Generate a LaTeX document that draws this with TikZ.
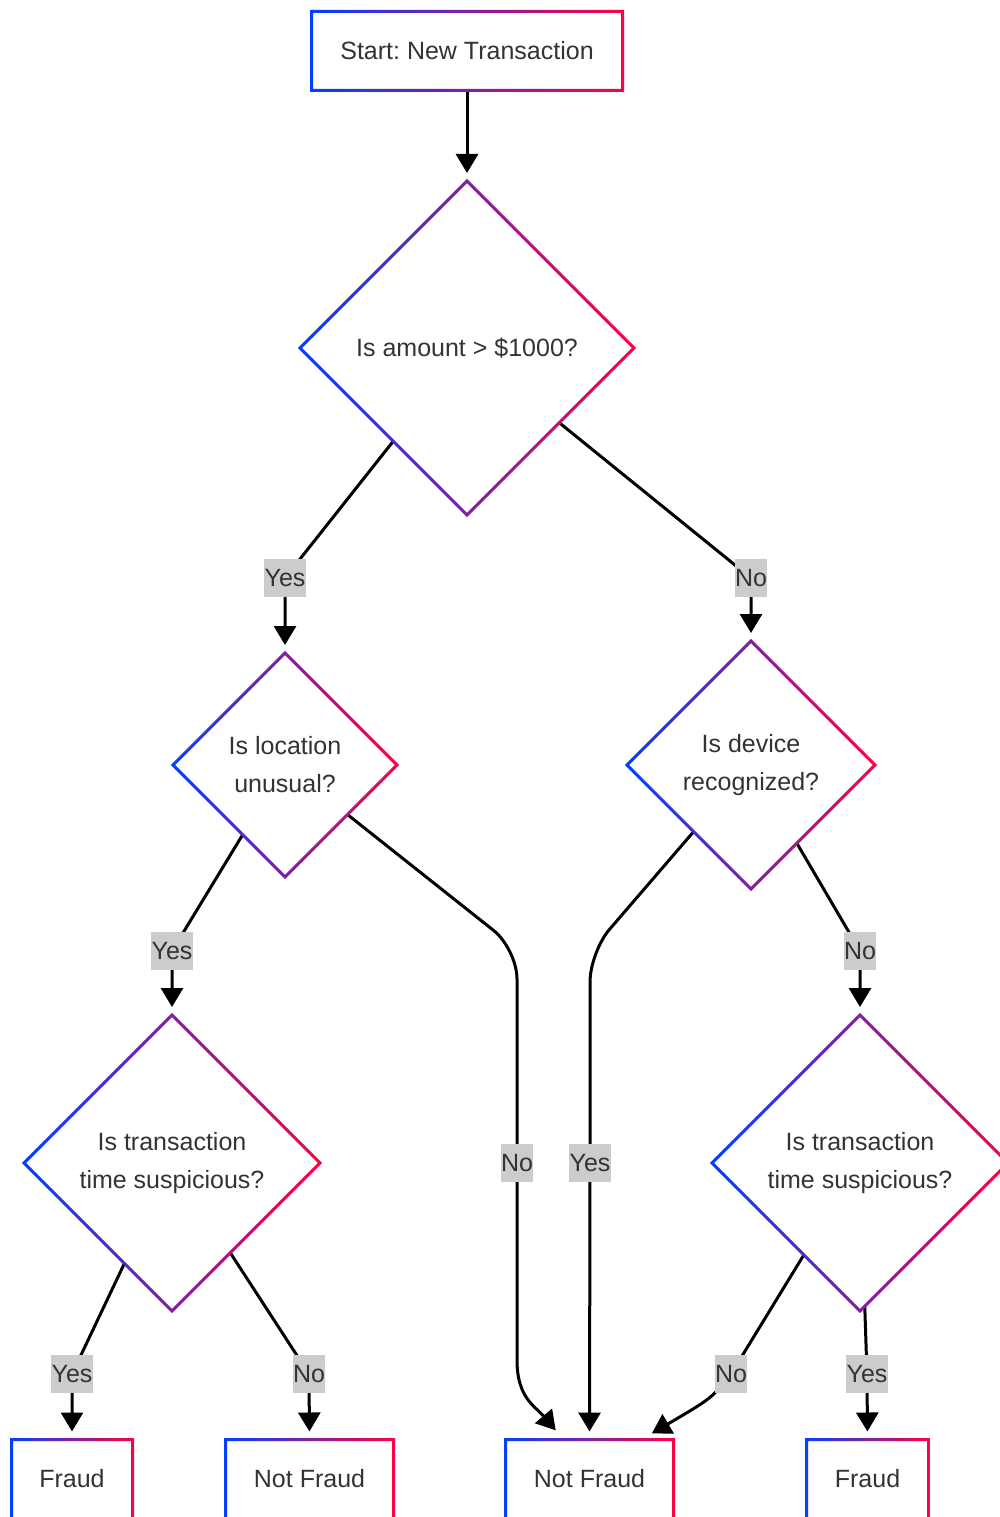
\documentclass[tikz,border=0pt]{standalone}
\usepackage{fontspec}
\setmainfont{Liberation Sans}
\usetikzlibrary{shapes.geometric,arrows.meta,backgrounds}
\frenchspacing

\definecolor{gblue}{RGB}{0,64,255}
\definecolor{gred}{RGB}{255,0,68}
\definecolor{lgray}{RGB}{204,204,204}
\definecolor{ink}{RGB}{51,51,51}

\tikzset{
  every node/.style={font=\fontsize{25}{38}\selectfont, text=ink},
  termbox/.style={rectangle, minimum width=#1, minimum height=79pt, inner sep=0pt, outer sep=0pt},
  decision/.style={diamond, aspect=1, minimum width=#1, minimum height=#1,
                   inner sep=0pt, outer sep=0pt, align=center},
  edgelabel/.style={fill=lgray, inner xsep=0.5pt, inner ysep=0pt, minimum height=38pt},
  conn/.style={line width=3pt, black, -{Triangle[width=22pt,length=19pt]}, shorten >=8pt},
  gradstroke/.style={left color=gblue, right color=gred, even odd rule},
}

% gradient outline (3pt wide, centred on the border) of a rectangular node
\newcommand{\gradrect}[1]{%
  \shade[gradstroke]
    ([shift={(-1.5pt,-1.5pt)}]#1.south west) rectangle ([shift={(1.5pt,1.5pt)}]#1.north east)
    ([shift={(1.5pt,1.5pt)}]#1.south west) rectangle ([shift={(-1.5pt,-1.5pt)}]#1.north east);}

% gradient outline of a diamond node
\newcommand{\graddiamond}[1]{%
  \shade[gradstroke]
    ([yshift=2.1pt]#1.north) -- ([xshift=2.1pt]#1.east) -- ([yshift=-2.1pt]#1.south) -- ([xshift=-2.1pt]#1.west) -- cycle
    ([yshift=-2.1pt]#1.north) -- ([xshift=-2.1pt]#1.east) -- ([yshift=2.1pt]#1.south) -- ([xshift=2.1pt]#1.west) -- cycle;}

\begin{document}
\begin{tikzpicture}[x=1pt, y=-1pt]
\useasboundingbox (0,0) rectangle (1000,1517);

% terminal boxes
\node[termbox=311pt] (start) at (467,51) {Start: New Transaction};
\node[termbox=121pt] (fraudA) at (72,1479) {Fraud};
\node[termbox=168pt] (okA) at (309.5,1479) {Not Fraud};
\node[termbox=168pt] (okB) at (589.5,1479) {Not Fraud};
\node[termbox=122pt] (fraudB) at (867.5,1479) {Fraud};

% decisions
\node[decision=334pt] (amount) at (467,348) {Is amount > \$1000?};
\node[decision=224pt] (location) at (285,765) {Is location\\unusual?};
\node[decision=248pt] (device) at (751,765) {Is device\\recognized?};
\node[decision=296pt] (timeA) at (172,1163) {Is transaction\\time suspicious?};
\node[decision=296pt] (timeB) at (860,1163) {Is transaction\\time suspicious?};

\gradrect{start}
\gradrect{fraudA}
\gradrect{okA}
\gradrect{okB}
\gradrect{fraudB}
\graddiamond{amount}
\graddiamond{location}
\graddiamond{device}
\graddiamond{timeA}
\graddiamond{timeB}

% edge labels
\node[edgelabel] (amtYes) at (285,578) {Yes};
\node[edgelabel] (amtNo) at (751,578) {No};
\node[edgelabel] (locYes) at (172,951) {Yes};
\node[edgelabel] (devNo) at (860,951) {No};
\node[edgelabel] (locNo) at (517,1163) {No};
\node[edgelabel] (devYes) at (590,1163) {Yes};
\node[edgelabel] (tAYes) at (72,1374) {Yes};
\node[edgelabel] (tANo) at (309,1374) {No};
\node[edgelabel] (tBNo) at (731,1374) {No};
\node[edgelabel] (tBYes) at (867,1374) {Yes};

% bends of the long connectors
\coordinate (locBend) at (517,949);
\coordinate (locLow) at (517,1360);
\coordinate (devBend) at (590,952);

\begin{scope}[on background layer]
  \fill[white] (0,0) rectangle (1000,1517);

  \draw[conn] (start) -- (amount);

  \draw[conn] (amount) -- (amtYes.center) -- (location.north);
  \draw[conn] (amount) -- (amtNo.center) -- (device.north);

  \draw[conn] (location) -- (locYes.center) -- (timeA.north);
  \draw[conn] (device) -- (devNo.center) -- (timeB.north);

  \draw[conn, shorten >=12pt] (location) [rounded corners=30pt] -- (locBend) -- (locNo.center)
        [sharp corners] -- (locLow) .. controls (517,1398) and (535,1406) .. ([xshift=-26pt]okB.north);
  \draw[conn, rounded corners=30pt] (device) -- (devBend) -- (devYes.center) -- (okB.north);

  \draw[conn] (timeA) -- (tAYes.center) -- (fraudA.north);
  \draw[conn] (timeA) -- (tANo.center) -- (okA.north);

  \draw[conn, shorten >=12pt] (timeB) -- (tBNo.center) .. controls (712,1398) .. ([xshift=52pt]okB.north);
  \draw[conn] (timeB) -- (tBYes.center) -- (fraudB.north);
\end{scope}
\end{tikzpicture}
\end{document}
